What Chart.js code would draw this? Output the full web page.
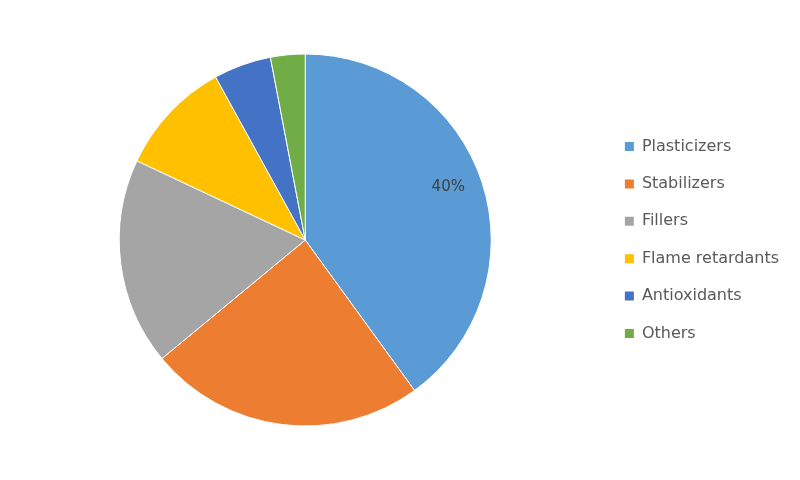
<!DOCTYPE html>
<html>
<head>
<meta charset="utf-8">
<title>Plastic additives share</title>
<script src="https://cdn.jsdelivr.net/npm/chart.js@4/dist/chart.umd.min.js"></script>
<style>
    html, body { margin: 0; padding: 0; background: #fff; }
    #wrap { width: 800px; height: 480px; }
</style>
</head>
<body>
<div id="wrap"><canvas id="pieChart" width="800" height="480"></canvas></div>
<script>
// Chart data
const categories = ['Plasticizers', 'Stabilizers', 'Fillers', 'Flame retardants', 'Antioxidants', 'Others'];
const shares = [40, 24, 18, 10, 5, 3];
const sliceColors = ['#5B9BD5', '#ED7D31', '#A5A5A5', '#FFC000', '#4472C4', '#70AD47'];
// only the first slice carries a label in the original
const shownLabels = ['40%', '', '', '', '', ''];

// Draws the percentage label inside a slice
const sliceLabels = {
    id: 'sliceLabels',
    afterDatasetsDraw(chart) {
        const ctx = chart.ctx;
        const arcs = chart.getDatasetMeta(0).data;
        ctx.save();
        ctx.font = '15px "DejaVu Sans", sans-serif';
        ctx.fillStyle = '#404040';
        ctx.textAlign = 'center';
        ctx.textBaseline = 'middle';
        arcs.forEach((arc, i) => {
            if (!shownLabels[i]) return;
            const p = arc.getProps(['x', 'y', 'startAngle', 'endAngle', 'outerRadius'], true);
            const mid = (p.startAngle + p.endAngle) / 2 - 0.04;
            const r = p.outerRadius * 0.82;
            ctx.fillText(shownLabels[i], p.x + Math.cos(mid) * r, p.y + Math.sin(mid) * r);
        });
        ctx.restore();
    }
};

function createChart() {
    const ctx = document.getElementById('pieChart').getContext('2d');
    new Chart(ctx, {
        type: 'pie',
        data: {
            labels: categories,
            datasets: [{
                data: shares,
                backgroundColor: sliceColors,
                borderColor: '#ffffff',
                borderWidth: 1
            }]
        },
        options: {
            responsive: false,
            animation: false,
            radius: 186,
            layout: {
                padding: { left: 7, right: 11, top: 0, bottom: 0 }
            },
            plugins: {
                tooltip: { enabled: false },
                legend: {
                    position: 'right',
                    labels: {
                        boxWidth: 9,
                        boxHeight: 9,
                        padding: 21.4,
                        color: '#595959',
                        font: { family: '"DejaVu Sans", sans-serif', size: 16 },
                        generateLabels(chart) {
                            const items = Chart.overrides.pie.plugins.legend.labels.generateLabels(chart);
                            items.forEach(it => { it.lineWidth = 0; });
                            return items;
                        }
                    }
                }
            }
        },
        plugins: [sliceLabels]
    });
}

document.addEventListener('DOMContentLoaded', createChart);
</script>
</body>
</html>
